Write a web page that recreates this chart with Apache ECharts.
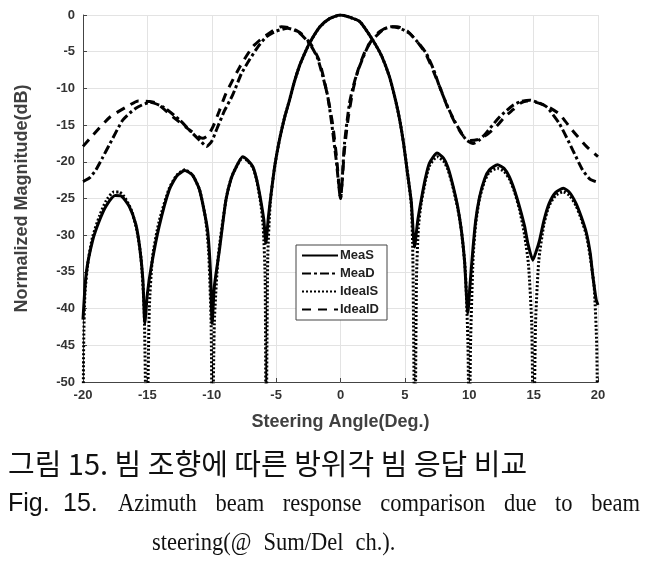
<!DOCTYPE html>
<html><head><meta charset="utf-8">
<script src="https://cdn.jsdelivr.net/npm/echarts@6/dist/echarts.min.js"></script>
<style>html,body{margin:0;padding:0;background:#fff}#c{width:649px;height:562px}</style>
</head><body><div id="c"></div>
<script>
const xTicks = [-20,-15,-10,-5,0,5,10,15,20];
const yTicks = [-50,-45,-40,-35,-30,-25,-20,-15,-10,-5,0];

const meaS_x = [-20,-19.75,-19.25,-18.7,-18.2,-17.5,-17.0,-16.4,-15.9,-15.6,-15.35,-15.2,-15.0,-14.7,-14.1,-13.3,-12.7,-12.1,-11.5,-10.95,-10.5,-10.3,-10.1,-9.97,-9.8,-9.4,-8.9,-8.5,-8.1,-7.6,-7.2,-6.8,-6.5,-6.2,-5.95,-5.8,-5.6,-5.4,-5.1,-4.74,-4.35,-3.96,-3.6,-3.2,-2.8,-2.4,-1.6,-0.85,0,0.7,1.5,2.5,3.2,3.8,4.3,4.6,4.9,5.2,5.5,5.75,6.0,6.27,6.6,6.9,7.5,8.0,8.33,8.7,9.1,9.4,9.63,9.89,10.05,10.28,10.5,10.8,11.2,11.57,12.2,12.7,13.1,13.5,13.9,14.3,14.55,14.94,15.2,15.46,15.8,16.2,16.7,17.3,17.8,18.3,18.7,19.1,19.4,19.6,19.86,20];
const meaS_y = [-41.5,-35.2,-30.7,-27.9,-26.0,-24.6,-24.7,-26.1,-28.5,-31.6,-36,-42,-38,-34.3,-28.9,-23.8,-21.9,-21.2,-21.8,-23.8,-27.5,-29.7,-35,-42,-37,-32,-25.2,-22.3,-20.7,-19.3,-19.8,-20.7,-22.5,-25.2,-28,-31.1,-27.5,-24.5,-20.5,-17,-14,-11.6,-9.2,-7.0,-5.3,-3.8,-1.6,-0.5,0,-0.3,-0.9,-3.4,-5.6,-8.4,-11.8,-14.3,-17.5,-21.5,-25.5,-31.6,-28,-25.2,-22.2,-20.2,-18.8,-19.5,-20.7,-23,-26.1,-29.5,-33.4,-40.6,-37,-32,-28,-24.8,-22.3,-21.1,-20.4,-20.9,-22,-23.8,-26.1,-28.8,-31.1,-33.4,-32.2,-30.7,-28,-25.7,-24.2,-23.6,-24.2,-25.7,-27.5,-29.7,-32.5,-35.6,-38.8,-39.5];

const idealS_x = [-20,-19.95,-19.85,-19.6,-19.25,-18.7,-18.2,-17.6,-17.2,-16.7,-16.2,-15.8,-15.5,-15.25,-15.05,-14.85,-14.6,-14.1,-13.3,-12.7,-12.1,-11.5,-10.95,-10.5,-10.25,-10.05,-9.95,-9.8,-9.5,-8.9,-8.5,-8.1,-7.6,-7.2,-6.8,-6.5,-6.2,-6.0,-5.85,-5.78,-5.65,-5.45,-5.1,-4.74,-4.35,-3.96,-3.6,-3.2,-2.8,-2.4,-1.6,-0.85,0,0.7,1.5,2.5,3.2,3.8,4.3,4.6,4.9,5.2,5.5,5.62,5.78,5.9,6.05,6.27,6.6,6.9,7.5,8.0,8.33,8.7,9.1,9.4,9.7,9.9,10.0,10.1,10.3,10.5,10.8,11.2,11.57,12.2,12.7,13.1,13.5,13.9,14.3,14.6,14.85,15.0,15.15,15.4,15.8,16.2,16.7,17.3,17.8,18.3,18.7,19.1,19.4,19.7,19.9,20];
const idealS_y = [-60,-45,-38,-33.5,-30.2,-27.3,-25.3,-24.1,-24.1,-25,-26.8,-29.5,-33,-40,-60,-40,-33,-28.2,-23.6,-21.8,-21.1,-21.8,-23.8,-27.5,-32,-42,-60,-42,-33,-25.2,-22.3,-20.7,-19.4,-19.9,-20.8,-22.6,-25.6,-29,-36,-60,-33,-25.5,-20.5,-17,-14,-11.6,-9.2,-7.0,-5.3,-3.8,-1.6,-0.5,0,-0.3,-0.9,-3.4,-5.6,-8.4,-11.8,-14.3,-17.5,-21.5,-25.8,-33,-60,-36,-29,-25.6,-22.6,-20.6,-19.3,-19.9,-21,-23.2,-26.3,-29.5,-35,-45,-60,-45,-33,-28.5,-25,-22.6,-21.4,-20.9,-21.3,-22.3,-24,-26.5,-30,-34,-42,-60,-42,-33.5,-28.5,-26,-24.6,-24.1,-24.6,-26,-27.8,-30,-33,-37,-45,-60];

const meaD_x = [-20,-19.5,-19,-18.5,-17.9,-16.9,-15.9,-14.8,-13.8,-12.5,-11.5,-10.8,-10.4,-10.0,-9.6,-9.0,-8.4,-7.7,-7.07,-6.4,-5.77,-5.0,-4.1,-3.3,-2.4,-1.8,-1.37,-1.0,-0.72,-0.33,0,0.31,0.7,1.1,1.48,2.25,3.3,3.94,4.6,5.36,6.0,6.65,7.2,7.7,8.2,8.7,9.2,9.76,10.3,10.8,11.3,12.35,13.4,14.0,14.7,15.3,16,17,18.04,18.8,19.4,20];
const meaD_y = [-22.7,-22.2,-21.1,-19.5,-17.5,-14.3,-12.7,-11.9,-12.5,-14.3,-16.1,-17.3,-17.9,-17.2,-15.5,-13.0,-11.0,-8.0,-6.1,-4.3,-3.0,-2.2,-1.8,-2.3,-3.9,-5.8,-8.4,-11,-14.3,-19.8,-25,-17.5,-12,-9.0,-7.0,-3.9,-2.0,-1.6,-1.8,-2.5,-3.7,-5.2,-7.3,-9.8,-12,-13.9,-15.5,-17.0,-17.5,-17.0,-16.1,-13.9,-12.3,-11.8,-11.6,-11.9,-12.5,-14.8,-18.4,-21.1,-22.4,-22.8];

const idealD_x = [-20,-19.2,-17.9,-16.6,-15.7,-14.8,-14.3,-13,-11.7,-10.7,-10.3,-9.9,-9.4,-8.9,-7.8,-6.8,-5.8,-4.6,-3.8,-3.0,-2.3,-1.7,-1.3,-0.9,-0.6,-0.3,0,0.3,0.6,1.0,1.4,2.0,2.8,3.6,4.4,5.2,5.9,6.6,7.2,7.8,8.3,8.9,9.5,10.1,10.6,11.3,12.1,12.8,13.4,14.0,14.5,15.2,16.0,17.0,18.0,19.1,20];
const idealD_y = [-17.9,-16.3,-13.9,-12.5,-11.7,-11.8,-12.0,-13.9,-15.7,-16.8,-16.4,-15.2,-13,-10.7,-7.0,-4.3,-2.8,-1.6,-1.8,-2.6,-4.0,-6.0,-8.6,-12,-15,-19.5,-25,-18.5,-14,-10,-7.3,-4.6,-2.6,-1.7,-1.6,-2.2,-3.5,-5.2,-7.6,-10.2,-12.5,-14.7,-16.4,-17.1,-17.0,-16.4,-15.2,-13.8,-12.9,-12.0,-11.7,-11.9,-12.4,-13.5,-15.7,-17.9,-19.3];

const seriesNames = ['MeaS','MeaD','IdealS','IdealD'];
const xTitle = 'Steering Angle(Deg.)';
const yTitle = 'Normalized Magnitude(dB)';
const caption1 = '그림 15. 빔 조향에 따른 방위각 빔 응답 비교';
const caption2a = ['Fig.', '15.'];
const caption2b = ['Azimuth','beam','response','comparison','due','to','beam'];
const caption3 = ['steering(@', 'Sum/Del', 'ch.).'];

function pairs(xs, ys){ return xs.map((x,i)=>[x, ys[i]]); }

const chart = echarts.init(document.getElementById('c'), null, {renderer:'canvas'});
const SANS = 'Liberation Sans, Arial, sans-serif';
const lab = {fontFamily:SANS, fontWeight:'bold', fontSize:13, color:'#333'};
function ser(name, xs, ys, type){
  return {name, type:'line', data:pairs(xs,ys), symbol:'none', smooth:0.2, clip:true,
    lineStyle:{color:'#000', width:3, type:type, cap:'butt'}, itemStyle:{color:'#000'}, z: 3};
}
// caption word layout (justified line as in the reference)
const SERIF_FONT = '25px "Liberation Serif", serif';
const SX = 0.9;
const ctx = document.createElement('canvas').getContext('2d');
ctx.font = SERIF_FONT;
function justify(words, x0, x1, y){
  const ws = words.map(w => ctx.measureText(w).width * SX);
  const gap = (x1 - x0 - ws.reduce((a,b)=>a+b,0)) / (words.length - 1);
  let x = x0; const out = [];
  words.forEach((w,i)=>{ out.push({type:'text', left:x, top:y, scaleX:SX, style:{text:w, font:SERIF_FONT, fill:'#111'}}); x += ws[i] + gap; });
  return out;
}
function spaced(words, x0, gap, y){
  let x = x0; const out = [];
  words.forEach(w=>{ out.push({type:'text', left:x, top:y, scaleX:SX, style:{text:w, font:SERIF_FONT, fill:'#111'}}); x += ctx.measureText(w).width*SX + gap; });
  return out;
}
chart.setOption({
  animation:false,
  grid:{left:83, right:51, top:15, bottom:180},
  xAxis:{type:'value', min:-20, max:20, interval:5,
    name:xTitle, nameLocation:'middle', nameGap:31,
    nameTextStyle:{fontFamily:SANS, fontWeight:'bold', fontSize:18, color:'#404040'},
    axisLine:{onZero:false, lineStyle:{color:'#444', width:1}},
    axisTick:{inside:true, length:4, lineStyle:{color:'#444'}},
    axisLabel:Object.assign({margin:7, formatter:v=>xTicks.includes(v)?String(v):''}, lab),
    splitLine:{show:true, lineStyle:{color:'#e3e3e3', width:1}}},
  yAxis:{type:'value', min:-50, max:0, interval:5,
    name:yTitle, nameLocation:'middle', nameGap:52,
    nameTextStyle:{fontFamily:SANS, fontWeight:'bold', fontSize:18, color:'#404040'},
    axisLine:{show:true, onZero:false, lineStyle:{color:'#444', width:1}},
    axisTick:{show:true, inside:true, length:4, lineStyle:{color:'#444'}},
    axisLabel:Object.assign({margin:8, formatter:v=>yTicks.includes(v)?String(v):''}, lab),
    splitLine:{show:true, lineStyle:{color:'#e3e3e3', width:1}}},
  legend:{orient:'vertical', left:296, top:245, itemWidth:36, itemHeight:12, itemGap:5,
    padding:[4,8,4,5], borderColor:'#444', borderWidth:1, backgroundColor:'#fff',
    data:seriesNames, itemStyle:{opacity:0},
    textStyle:{fontFamily:SANS, fontWeight:'bold', fontSize:13, color:'#222', padding:[0,0,0,-3]}},
  series:[
    ser(seriesNames[0], meaS_x, meaS_y, 'solid'),
    ser(seriesNames[1], meaD_x, meaD_y, [9,3,3,3]),
    ser(seriesNames[2], idealS_x, idealS_y, [2,2]),
    ser(seriesNames[3], idealD_x, idealD_y, [9,7])
  ],
  graphic:[
    {type:'text', left:8, top:449, style:{text:caption1, font:'29px "Noto Sans CJK KR"', fill:'#111'}},
    {type:'text', left:8, top:492, style:{text:caption2a[0], font:'25px "Liberation Sans", sans-serif', fill:'#111'}},
    {type:'text', left:63, top:492, style:{text:caption2a[1], font:'25px "Liberation Sans", sans-serif', fill:'#111'}},
    ...justify(caption2b, 118, 640, 492),
    ...spaced(caption3, 152, 12, 531)
  ]
});
</script></body></html>
